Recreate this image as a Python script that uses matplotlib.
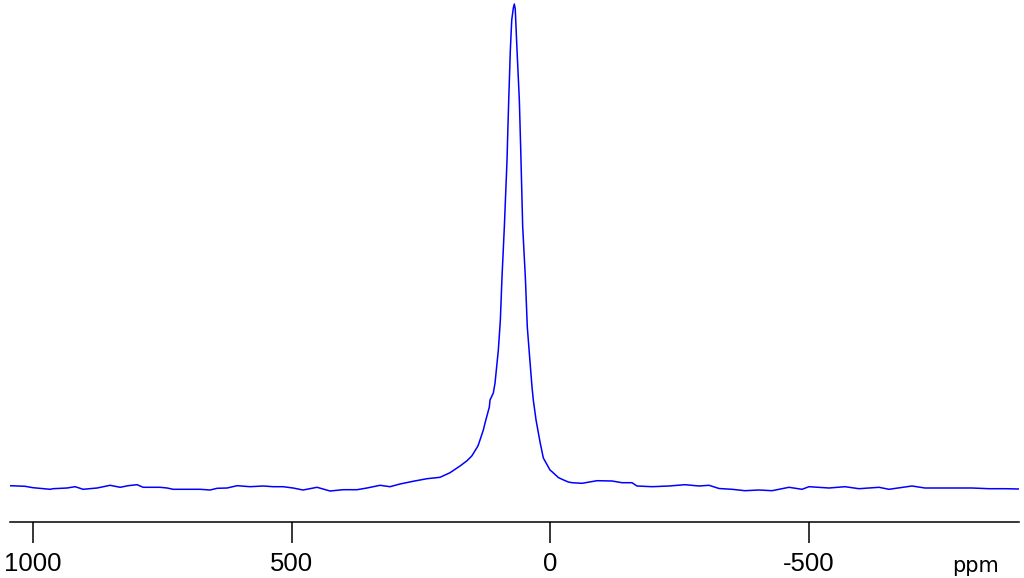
import matplotlib
matplotlib.use("Agg")
import matplotlib.pyplot as plt

# chemical shift (ppm) and intensity (arb. units, baseline ~0)
shift = [1044.7, 1015.7, 1000.2, 967.1, 961.3, 934.3, 918.8, 903.3, 876.2, 851.1,
         831.7, 816.3, 798.9, 787.3, 754.4, 740.9, 729.3, 702.2, 677.1, 657.8,
         644.2, 624.9, 605.6, 580.5, 555.4, 536.0, 516.7, 497.4, 478.1, 451.0,
         425.9, 400.7, 373.7, 354.4, 329.2, 309.9, 290.6, 265.4, 238.4, 213.2,
         193.9, 174.6, 161.0, 151.9, 141.1, 139.2, 129.5, 126.2, 117.9, 116.6,
         110.2, 106.9, 100.5, 96.6, 93.4, 88.9, 83.7, 82.3, 80.4, 77.3,
         74.6, 71.5, 69.6, 67.8, 66.9, 64.4, 59.9, 57.2, 53.4, 48.3, 44.5, 40.6,
         35.4, 32.9, 27.6, 19.9, 13.5, 0.6, -3.3, -15.5, -22.6, -34.8,
         -41.9, -61.3, -90.3, -119.3, -138.6, -157.9, -167.6, -196.6, -229.5, -260.4,
         -287.5, -306.8, -326.2, -351.3, -376.4, -403.5, -428.6, -461.5, -486.6, -500.2,
         -538.8, -569.8, -596.8, -635.5, -654.8, -699.3, -724.4, -763.1, -815.3, -848.1,
         -879.1, -906.2]
intensity = [1.3, 0.7, -0.7, -2.3, -1.7, -1.0, 0.3, -2.3, -1.0, 1.7,
             -0.3, 1.3, 2.3, -0.3, -0.3, -1.0, -2.3, -2.3, -2.3, -3.0,
             -1.3, -1.0, 1.3, 0.3, 1.0, 0.3, 0.3, -1.0, -3.0, -0.3,
             -4.0, -2.7, -2.7, -1.0, 1.7, 0.3, 3.0, 5.7, 8.3, 9.7,
             14.3, 21.0, 26.3, 31.0, 40.0, 42.0, 57.0, 64.0, 80.0, 87.0,
             94.0, 104.0, 137.0, 167.0, 210.0, 260.0, 327.0, 354.0, 387.0, 437.0,
             467.0, 479.0, 483.0, 478.0, 467.0, 437.0, 387.0, 337.0, 260.0, 210.0, 160.0, 134.0,
             100.0, 87.0, 67.0, 45.0, 29.0, 17.0, 15.3, 9.5, 7.7, 5.0,
             4.3, 3.7, 6.3, 6.0, 4.3, 4.3, 1.0, 0.3, 1.0, 2.3,
             1.0, 1.7, -1.5, -2.3, -3.7, -3.0, -3.7, -0.3, -2.3, 0.3,
             -1.0, 0.3, -1.7, -0.3, -2.3, 1.0, -1.0, -1.0, -1.0, -1.7,
             -1.7, -2.0]
ticks = [1000, 500, 0, -500]
tick_labels = ["1000", "500", "0", "-500"]

fig = plt.figure(figsize=(10.24, 5.78), dpi=100)
ax = fig.add_axes([10 / 1024, 56 / 578, 1009 / 1024, 522 / 578])
ax.plot(shift, intensity, color="#0000ff", linewidth=1.1)

ax.set_xlim(1044.7, -906.2)
ax.set_ylim(-35, 487)
for side in ("top", "left", "right"):
    ax.spines[side].set_visible(False)
ax.spines["bottom"].set_linewidth(1.1)
ax.set_yticks([])
ax.set_xticks(ticks)
ax.set_xticklabels(tick_labels, fontfamily="Liberation Sans", fontsize=18.5)
ax.tick_params(axis="x", length=15, width=1.1, pad=6.5)

fig.text(976 / 1024, 1 - 572 / 578, "ppm", ha="center", va="baseline",
         fontsize=15, fontfamily="DejaVu Sans")

fig.savefig("out.png", dpi=100)
